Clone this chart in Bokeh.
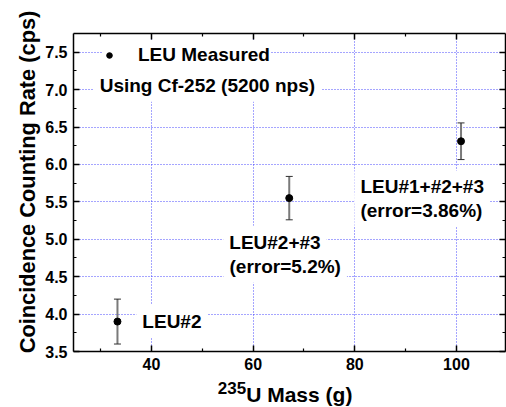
from math import pi
from bokeh.plotting import figure
from bokeh.models import (ColumnDataSource, Whisker, TeeHead, Label, Legend, LegendItem,
                          LinearAxis, FixedTicker, PrintfTickFormatter, Range1d)
from bokeh.embed import file_html
from bokeh.resources import INLINE

# ---- data ----
mass = [33.3, 67.1, 100.9]          # 235U mass (g)
rate = [3.90, 5.55, 6.31]           # coincidence counting rate (cps)
err = [0.30, 0.29, 0.245]           # error bar half-length (cps)

x_ticks = [40, 60, 80, 100]
x_minor = [30, 50, 70, 90, 110]
y_ticks = [3.5, 4.0, 4.5, 5.0, 5.5, 6.0, 6.5, 7.0, 7.5]
y_minor = [3.75, 4.25, 4.75, 5.25, 5.75, 6.25, 6.75, 7.25]

legend_text = "LEU Measured"
note_texts = ["Using Cf-252 (5200 nps)", "LEU#2", "LEU#2+#3", "(error=5.2%)",
              "LEU#1+#2+#3", "(error=3.86%)"]
note_x = [29.8, 38.2, 55.3, 55.35, 81.1, 81.1]
note_y = [7.06, 3.90, 4.96, 4.64, 5.70, 5.39]

FONT = "Liberation Sans"

src = ColumnDataSource(dict(
    x=mass, y=rate,
    upper=[r + e for r, e in zip(rate, err)],
    lower=[r - e for r, e in zip(rate, err)],
))

p = figure(width=506, height=407, output_backend="svg", toolbar_location=None,
           x_range=Range1d(24.65, 109.65), y_range=Range1d(3.5, 7.75),
           min_border_left=73, min_border_right=1, min_border_top=33, min_border_bottom=54,
           background_fill_color="white", border_fill_color="white")
p.outline_line_color = None

xt = FixedTicker(ticks=x_ticks, minor_ticks=x_minor)
yt = FixedTicker(ticks=y_ticks, minor_ticks=y_minor)


def style_axis(ax, ticker, show):
    ax.ticker = ticker
    ax.major_tick_in = 6
    ax.major_tick_out = 0
    ax.minor_tick_in = 3
    ax.minor_tick_out = 0
    ax.axis_line_width = 1.5
    ax.axis_line_color = "black"
    ax.major_tick_line_width = 1.5
    ax.minor_tick_line_width = 1.2
    ax.major_tick_line_color = "black"
    ax.minor_tick_line_color = "black"
    if show:
        ax.major_label_text_font = FONT
        ax.major_label_text_font_style = "bold"
        ax.major_label_text_font_size = "16px"
        ax.major_label_text_color = "black"
        ax.major_label_standoff = 6
    else:
        ax.major_label_text_color = None
        ax.major_label_text_font_size = "1px"
        ax.major_label_standoff = 0


for ax in p.xaxis:
    style_axis(ax, xt, True)
for ax in p.yaxis:
    style_axis(ax, yt, True)
    ax.formatter = PrintfTickFormatter(format="%.1f")

top = LinearAxis()
style_axis(top, xt, False)
p.add_layout(top, "above")
right = LinearAxis()
style_axis(right, yt, False)
p.add_layout(right, "right")

for g, t in ((p.xgrid, xt), (p.ygrid, yt)):
    g.ticker = t
    g.grid_line_color = "#2b2bff"
    g.grid_line_dash = "1 2"
    g.grid_line_width = 1
    g.grid_line_alpha = 0.85

w = Whisker(base="x", upper="upper", lower="lower", source=src, dimension="height",
            line_color="#7a7a7a", line_width=2, level="underlay",
            upper_head=TeeHead(size=7, line_color="#303030", line_width=1),
            lower_head=TeeHead(size=7, line_color="#303030", line_width=1))
p.add_layout(w)

r = p.scatter("x", "y", source=src, size=7, color="black")

leg = Legend(items=[LegendItem(label=legend_text, renderers=[r])],
             location=(29, 282), padding=0, margin=0, spacing=0,
             glyph_width=14, glyph_height=28, label_height=28, label_standoff=22,
             label_text_font=FONT, label_text_font_style="bold", label_text_font_size="19px",
             label_text_color="black", border_line_color=None,
             background_fill_color="white", background_fill_alpha=1.0)
p.add_layout(leg)

for t, x, y in zip(note_texts, note_x, note_y):
    p.add_layout(Label(x=x, y=y, x_offset=-6, text=t, text_font=FONT, text_font_style="bold",
                       text_font_size="19px", text_color="black", text_align="left",
                       text_baseline="middle", background_fill_color="white", padding=6))

# axis titles placed in the side panels
p.add_layout(Label(x=10, y=169.5, x_units="screen", y_units="screen",
                   text="Coincidence Counting Rate (cps)", angle=pi / 2,
                   text_font=FONT, text_font_style="bold", text_font_size="21.8px",
                   text_align="center", text_baseline="middle", text_color="black"), "left")
p.add_layout(Label(x=172.7, y=1.5, x_units="screen", y_units="screen",
                   text="U Mass (g)", text_font=FONT, text_font_style="bold",
                   text_font_size="21px", text_align="left", text_baseline="middle",
                   text_color="black"), "below")
p.add_layout(Label(x=172.7, y=20, x_units="screen", y_units="screen",
                   text="235", text_font=FONT, text_font_style="bold",
                   text_font_size="17px", text_align="right", text_baseline="middle",
                   text_color="black"), "below")

open("out.html", "w").write(file_html(p, INLINE))
